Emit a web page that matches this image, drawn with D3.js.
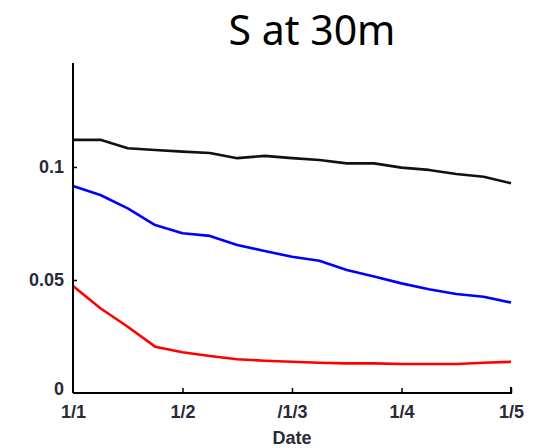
<!DOCTYPE html>
<html><head><meta charset="utf-8">
<script src="https://cdn.jsdelivr.net/npm/d3@7"></script>
<style>body{margin:0;background:#fff}svg{display:block}</style>
</head><body>
<svg id="c" width="544" height="448"></svg>
<script>
const title = "S at 30m";
const xLabel = "Date";
const xTickLabels = ["1/1", "1/2", "/1/3", "1/4", "1/5"];
const yTicks = [0, 0.05, 0.1];
const yTickLabels = ["0", "0.05", "0.1"];
// sample positions: quarter steps between tick dates (0..4)
const steps = [0,0.25,0.5,0.75,1,1.25,1.5,1.75,2,2.25,2.5,2.75,3,3.25,3.5,3.75,4];
const blackSeries = [0.112,0.112,0.1083,0.1075,0.1068,0.1062,0.1039,0.1049,0.1039,0.1031,0.1016,0.1016,0.0997,0.0987,0.0969,0.0957,0.0928];
const blueSeries  = [0.0916,0.0876,0.0817,0.0743,0.0707,0.0695,0.0655,0.0628,0.0603,0.0585,0.0544,0.0515,0.0485,0.0459,0.0438,0.0426,0.0400];
const redSeries   = [0.0473,0.0375,0.0293,0.0205,0.0180,0.0164,0.0149,0.0143,0.0138,0.0134,0.0131,0.0131,0.0128,0.0128,0.0128,0.0134,0.0138];

const svg = d3.select("#c");
const L = 73, R = 511, T = 63, B = 393;
const x = d3.scaleLinear().domain([0, 4]).range([L, R]);
const y = d3.scaleLinear().domain([0, 0.146]).range([B, T]);
const axisFont = "Liberation Sans, Arial, Helvetica, sans-serif";
const axisFill = "#2a2a38";

svg.append("text").attr("x", 312).attr("y", 45).attr("text-anchor", "middle")
  .attr("font-family", "Noto Sans, Open Sans, sans-serif").attr("font-size", 41)
  .attr("fill", "#000").text(title);

const series = [
  {vals: blackSeries, color: "#111"},
  {vals: blueSeries, color: "#0000ff"},
  {vals: redSeries, color: "#ff0000"}
];
const line = d3.line().x(d => x(d[0])).y(d => y(d[1]));
series.forEach(s => {
  svg.append("path").datum(steps.map((t, i) => [t, s.vals[i]]))
    .attr("d", line).attr("fill", "none").attr("stroke", s.color)
    .attr("stroke-width", 2.6).attr("stroke-linejoin", "round");
});

const xAxis = d3.axisBottom(x).tickValues([0,1,2,3,4])
  .tickFormat((d, i) => xTickLabels[i]).tickSizeInner(-5).tickSizeOuter(0).tickPadding(12);
const gx = svg.append("g").attr("transform", `translate(0,${B})`).call(xAxis);
const yAxis = d3.axisLeft(y).tickValues(yTicks)
  .tickFormat((d, i) => yTickLabels[i]).tickSizeInner(-4).tickSizeOuter(0).tickPadding(9);
const gy = svg.append("g").attr("transform", `translate(${L},0)`).call(yAxis);
[gx, gy].forEach(g => {
  g.select(".domain").attr("stroke", "#000").attr("stroke-width", 2);
  g.selectAll(".tick line").attr("stroke", "#000").attr("stroke-width", 1.5);
  g.selectAll(".tick text").attr("font-family", axisFont)
    .attr("font-size", 18).attr("font-weight", "bold").attr("fill", axisFill);
});
gx.select(".tick:first-of-type line").remove();
gy.select(".tick:first-of-type line").remove();
gy.select(".tick:first-of-type text").attr("dy", "0.1em");
gy.select(".domain").attr("d", `M0,${T}V${B}`);
gx.select(".domain").attr("d", `M${L},0H${R}V-6`);

svg.append("text").attr("x", 292).attr("y", 444).attr("text-anchor", "middle")
  .attr("font-family", axisFont).attr("font-size", 18).attr("font-weight", "bold")
  .attr("fill", axisFill).text(xLabel);
</script>
</body></html>
